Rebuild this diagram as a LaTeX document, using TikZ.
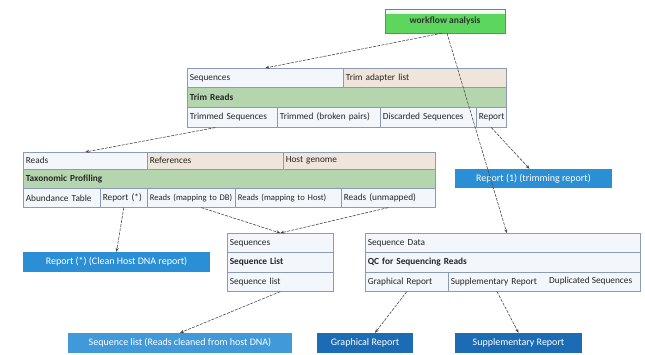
\documentclass[tikz,border=0pt]{standalone}
\usepackage{fontspec}
\setmainfont{Carlito}
\usetikzlibrary{arrows.meta,calc}

\definecolor{cellline}{HTML}{8A9BB8}
\definecolor{cellpale}{HTML}{F3F6FB}
\definecolor{cellbeige}{HTML}{EFE5DA}
\definecolor{cellgreen}{HTML}{B4D5AE}
\definecolor{wfgreen}{HTML}{5CD65C}
\definecolor{wfline}{HTML}{45A545}
\definecolor{repblue}{HTML}{2B8FD5}
\definecolor{repdark}{HTML}{1C6CB5}
\definecolor{linkgray}{HTML}{4A4A4A}

\tikzset{
  cell/.style={draw=cellline, line width=0.6pt, anchor=north west, inner sep=2.5pt,
    align=left, font=\fontsize{9.3}{10}\selectfont, text=black!85},
  small/.style={font=\fontsize{8.6}{10}\selectfont},
  head/.style={cell, fill=cellgreen, font=\fontsize{9.3}{10}\selectfont\bfseries},
  report/.style={fill=repblue, text=white, inner sep=0pt, font=\fontsize{10}{11}\selectfont},
  link/.style={draw=linkgray, line width=0.6pt, dash pattern=on 3pt off 1.2pt,
    -{Stealth[length=4pt,width=3.2pt]}}
}

\begin{document}
\begin{tikzpicture}[x=1pt,y=-1pt]
  \useasboundingbox (0,0) rectangle (645,354);

  % Start node
  \node[draw=wfline, fill=wfgreen, minimum width=120pt, minimum height=24pt,
    font=\fontsize{9.5}{10}\selectfont\bfseries, text=black!80,
    path picture={\fill[white!95!green] (path picture bounding box.north west)
      rectangle ([yshift=-4.5pt]path picture bounding box.north east);}]
    (wf) at (445,21) {workflow analysis};

  % Trim Reads
  \node[cell, fill=cellpale, minimum height=19pt, text width=151pt] (tSeq) at (187,68) {Sequences};
  \node[cell, fill=cellbeige, minimum height=19pt, text width=158pt] (tAdapt) at (343,68) {Trim adapter list};
  \node[head, minimum height=20pt, text width=314pt] (tHead) at (187,87) {Trim Reads};
  \node[cell, fill=cellpale, minimum height=20pt, text width=85pt] (tTrim) at (187,107) {Trimmed Sequences};
  \node[cell, fill=cellpale, minimum height=20pt, text width=98pt] (tBroken) at (277,107) {Trimmed (broken pairs)};
  \node[cell, fill=cellpale, minimum height=20pt, text width=91pt] (tDisc) at (380,107) {Discarded Sequences};
  \node[cell, fill=cellpale, minimum height=20pt, text width=25pt] (tRep) at (476,107) {Report};

  % Taxonomic Profiling
  \node[cell, fill=cellpale, minimum height=17pt, text width=119pt] (pReads) at (23,152) {Reads};
  \node[cell, fill=cellbeige, minimum height=17pt, text width=131pt] (pRef) at (147,152) {References};
  \node[cell, fill=cellbeige, minimum height=17pt, text width=147pt] (pHost) at (283,152) {Host genome};
  \node[head, minimum height=19pt, text width=407pt] (pHead) at (23,169) {Taxonomic Profiling};
  \node[cell, fill=cellpale, minimum height=19pt, text width=72pt] (pAbund) at (23,188) {Abundance Table};
  \node[cell, fill=cellpale, minimum height=19pt, text width=42pt] (pRep) at (100,188) {Report (*)};
  \node[cell, small, fill=cellpale, minimum height=19pt, text width=83pt] (pDB) at (147,188) {Reads (mapping to DB)};
  \node[cell, small, fill=cellpale, minimum height=19pt, text width=101pt] (pHostR) at (235,188) {Reads (mapping to Host)};
  \node[cell, fill=cellpale, minimum height=19pt, text width=89pt] (pUnm) at (341,188) {Reads (unmapped)};

  % Sequences
  \node[cell, fill=cellpale, minimum height=19pt, text width=101pt] (sSeq) at (227,233) {Sequences};
  \node[cell, fill=cellpale, minimum height=20pt, text width=101pt,
    font=\fontsize{9.3}{10}\selectfont\bfseries] (sHead) at (227,252) {Sequence List};
  \node[cell, fill=cellpale, minimum height=19pt, text width=101pt] (sList) at (227,272) {Sequence list};

  % QC for Sequencing Reads
  \node[cell, fill=cellpale, minimum height=19pt, text width=270pt] (qData) at (365,233) {Sequence Data};
  \node[cell, fill=cellpale, minimum height=20pt, text width=270pt,
    font=\fontsize{9.3}{10}\selectfont\bfseries] (qHead) at (365,252) {QC for Sequencing Reads};
  \node[cell, fill=cellpale, minimum height=19pt, text width=78pt] (qGraph) at (365,272) {Graphical Report};
  \node[cell, fill=cellpale, minimum height=19pt, text width=187pt] (qSupp) at (448,272) {Supplementary Report};
  \node[anchor=west, inner sep=0pt, font=\fontsize{9.3}{10}\selectfont, text=black!85] (qDup) at (549,281.5) {Duplicated Sequences};

  % Reports
  \node[report, minimum width=157pt, minimum height=19pt] (rTrim) at (533.5,178.5) {Report (1) (trimming report)};
  \node[report, minimum width=187pt, minimum height=20pt] (rHost) at (116.5,262) {Report (*) (Clean Host DNA report)};
  \node[report, fill=repblue!90!white, minimum width=224pt, minimum height=20pt] (rSeq) at (180,343) {Sequence list (Reads cleaned from host DNA)};
  \node[report, fill=repdark, minimum width=96pt, minimum height=20pt] (rGraph) at (365,343) {Graphical Report};
  \node[report, fill=repdark, minimum width=127pt, minimum height=20pt] (rSupp) at (518.5,343) {Supplementary Report};

  % Connectors
  \draw[link] ([xshift=-3pt]wf.south) -- (tSeq.north);
  \draw[link] ([xshift=2pt]wf.south) -- ([xshift=4pt]qData.north);
  \draw[link] ([xshift=-17pt]tTrim.south) -- (pReads.north);
  \draw[link] (tRep.south) -- ([xshift=-4pt]rTrim.north);
  \draw[link] (pRep.south) -- (rHost.north);
  \draw[link] ([xshift=10pt]pDB.south) -- (sSeq.north);
  \draw[link] (pUnm.south) -- (sSeq.north);
  \draw[link] (sList.south) -- (rSeq.north);
  \draw[link] (qGraph.south) -- ([xshift=10pt]rGraph.north);
  \draw[link] ([xshift=49pt]qSupp.south west) -- (rSupp.north);
\end{tikzpicture}
\end{document}
